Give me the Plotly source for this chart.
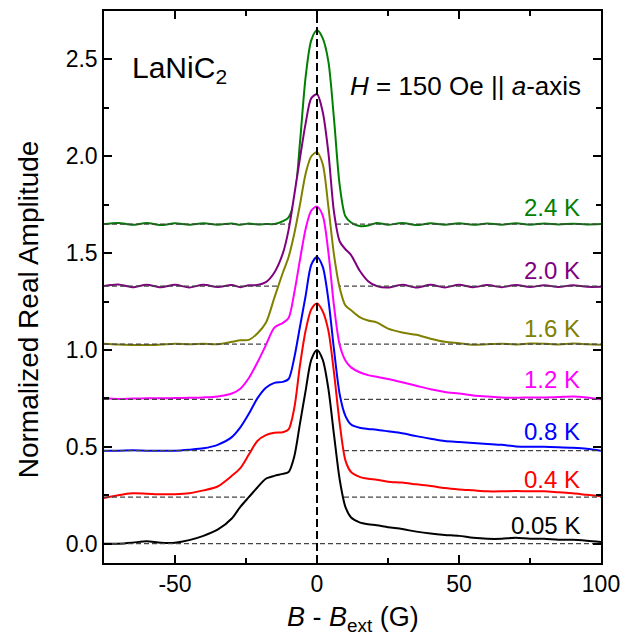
import plotly.graph_objects as go

# ---------------- data ----------------
field = [-75, -70, -65, -60, -55, -50, -45, -40, -35, -30, -27, -24, -21, -18, -15, -12, -10,
         -8, -6, -4, -2, 0, 2, 4, 6, 8, 10, 12, 15, 18, 21, 25, 30, 35, 40, 45, 50, 55, 60,
         65, 70, 75, 80, 85, 90, 95, 100]

amp_005K = [0.0, 0.0, 0.005, 0.012, 0.005, 0.005, 0.018, 0.04, 0.072, 0.13, 0.19, 0.24, 0.29,
            0.335, 0.35, 0.36, 0.37, 0.45, 0.62, 0.79, 0.95, 1.0, 0.95, 0.80, 0.56, 0.33, 0.19,
            0.135, 0.11, 0.10, 0.095, 0.085, 0.075, 0.062, 0.052, 0.045, 0.04, 0.03, 0.025,
            0.025, 0.03, 0.025, 0.025, 0.02, 0.02, 0.015, 0.008]
amp_04K = [-0.005, 0.01, 0.02, 0.018, 0.015, 0.015, 0.02, 0.035, 0.055, 0.11, 0.15, 0.22, 0.29,
           0.32, 0.332, 0.335, 0.35, 0.46, 0.68, 0.86, 0.97, 1.0, 0.96, 0.86, 0.64, 0.38, 0.19,
           0.13, 0.105, 0.095, 0.09, 0.08, 0.075, 0.066, 0.058, 0.047, 0.04, 0.035, 0.03,
           0.03, 0.032, 0.03, 0.03, 0.025, 0.02, 0.012, 0.005]
amp_08K = [0.0, 0.0, 0.002, 0.0, 0.0, 0.0, 0.005, 0.012, 0.03, 0.07, 0.12, 0.19, 0.27,
           0.325, 0.35, 0.355, 0.37, 0.48, 0.64, 0.80, 0.96, 1.0, 0.95, 0.78, 0.52, 0.29, 0.18,
           0.135, 0.118, 0.112, 0.108, 0.10, 0.09, 0.075, 0.062, 0.05, 0.045, 0.04, 0.035,
           0.03, 0.022, 0.02, 0.02, 0.018, 0.015, 0.01, 0.0]
amp_12K = [0.005, 0.002, 0.004, 0.006, 0.005, 0.007, 0.008, 0.01, 0.015, 0.03, 0.055, 0.11, 0.19,
           0.28, 0.37, 0.395, 0.42, 0.55, 0.72, 0.88, 0.975, 0.995, 0.95, 0.76, 0.48, 0.28, 0.20,
           0.165, 0.14, 0.125, 0.117, 0.105, 0.088, 0.07, 0.052, 0.038, 0.03, 0.02, 0.015,
           0.01, 0.008, 0.01, 0.01, 0.012, 0.015, 0.01, 0.0]
amp_16K = [0.002, -0.002, -0.004, -0.005, -0.002, 0.002, 0.0, 0.002, 0.0, 0.012, 0.02, 0.022,
           0.055, 0.11, 0.24, 0.37, 0.45, 0.57, 0.72, 0.88, 0.97, 0.99, 0.93, 0.71, 0.46, 0.29,
           0.20, 0.175, 0.14, 0.122, 0.112, 0.08, 0.06, 0.048, 0.028, 0.012, 0.005, -0.003,
           0.0, 0.002, -0.002, 0.003, 0.002, -0.002, 0.003, 0.0, -0.003]
amp_20K = [0.0, 0.008, -0.006, 0.007, -0.006, 0.006, -0.007, 0.006, -0.005, 0.005, -0.006,
           0.004, 0.005, 0.02, 0.07, 0.17, 0.29, 0.47, 0.66, 0.84, 0.97, 0.99, 0.90, 0.69, 0.38,
           0.23, 0.19, 0.16, 0.08, 0.025, 0.0, -0.008, 0.007, -0.008, 0.006, -0.007, 0.006,
           -0.006, 0.005, -0.006, 0.005, -0.005, 0.004, -0.005, 0.004, -0.004, -0.004]
amp_24K = [0.0, 0.006, -0.004, 0.005, -0.005, 0.004, -0.004, 0.004, -0.003, 0.003, -0.004,
           0.003, -0.002, 0.0, 0.0, 0.015, 0.035, 0.12, 0.42, 0.76, 0.95, 1.0, 0.96, 0.84, 0.54,
           0.20, 0.04, 0.008, -0.01, -0.008, 0.006, -0.004, 0.006, -0.005, 0.004, -0.004, 0.004,
           -0.004, 0.003, -0.003, 0.004, -0.003, 0.003, -0.002, 0.002, -0.002, 0.0]

temperatures = ["0.05 K", "0.4 K", "0.8 K", "1.2 K", "1.6 K", "2.0 K", "2.4 K"]
offsets = [0.0, 0.24, 0.48, 0.745, 1.03, 1.33, 1.65]
label_y = [0.093, 0.331, 0.579, 0.846, 1.113, 1.412, 1.737]
colors = ["#000000", "#FF0000", "#0000FF", "#FF00FF", "#808000", "#800080", "#008000"]
amplitudes = [amp_005K, amp_04K, amp_08K, amp_12K, amp_16K, amp_20K, amp_24K]

x_tick_vals = [-50, 0, 50, 100]
x_tick_text = ["-50", "0", "50", "100"]
y_tick_vals = [0.0, 0.5, 1.0, 1.5, 2.0, 2.5]
y_tick_text = ["0.0", "0.5", "1.0", "1.5", "2.0", "2.5"]
x_range = [-75, 100]
y_range = [-0.1, 2.75]
center_line_x = 0
label_x = 93.4

FONT = "Arial, 'Liberation Sans', Helvetica, sans-serif"

fig = go.Figure()

# draw from the top curve down so lower curves' white fills hide upper dashed baselines
for i in reversed(range(len(temperatures))):
    off = offsets[i]
    ys = [a + off for a in amplitudes[i]]
    fig.add_trace(go.Scatter(x=[x_range[0], x_range[1]], y=[off, off], mode="lines",
                             line=dict(width=0, color="rgba(0,0,0,0)"),
                             hoverinfo="skip", showlegend=False))
    fig.add_trace(go.Scatter(x=field, y=ys, mode="lines", name=temperatures[i],
                             line=dict(color=colors[i], width=2, shape="spline", smoothing=0.8),
                             fill="tonexty", fillcolor="white", showlegend=False))
    fig.add_trace(go.Scatter(x=[x_range[0], x_range[1]], y=[off, off], mode="lines",
                             line=dict(color="#444444", width=1.3, dash="5px,3px"),
                             hoverinfo="skip", showlegend=False))
    fig.add_annotation(x=label_x, y=label_y[i], text=temperatures[i], showarrow=False,
                       xanchor="right", yanchor="middle",
                       font=dict(family=FONT, size=24, color=colors[i]))

fig.add_shape(type="line", x0=center_line_x, x1=center_line_x, y0=0, y1=1,
              xref="x", yref="paper", layer="above",
              line=dict(color="black", width=2, dash="8px,4px"))

fig.add_annotation(x=-65.7, y=2.45, text="LaNiC<sub>2</sub>", showarrow=False,
                   xanchor="left", yanchor="middle",
                   font=dict(family=FONT, size=30, color="black"))
fig.add_annotation(x=93.8, y=2.363, text="<i>H</i> = 150 Oe || <i>a</i>-axis", showarrow=False,
                   xanchor="right", yanchor="middle",
                   font=dict(family=FONT, size=26, color="black"))

# axis titles
fig.add_annotation(x=0, y=1.21, xref="paper", yref="y", xshift=-76,
                   text="Normalized Real Amplitude", textangle=-90, showarrow=False,
                   xanchor="center", yanchor="middle",
                   font=dict(family=FONT, size=28, color="black"))
fig.add_annotation(x=0.5, y=0, xref="paper", yref="paper", yshift=-56,
                   text="<i>B</i> - <i>B</i><sub>ext</sub> (G)", showarrow=False,
                   xanchor="center", yanchor="middle",
                   font=dict(family=FONT, size=27, color="black"))

axis_common = dict(showline=True, linecolor="black", linewidth=1.5, mirror="ticks",
                   ticks="inside", ticklen=8, tickwidth=1.5, tickcolor="black",
                   showgrid=False, zeroline=False,
                   tickfont=dict(family=FONT, size=23, color="black"))

fig.update_xaxes(range=x_range, tickvals=x_tick_vals, ticktext=x_tick_text,
                 minor=dict(dtick=25, tick0=-75, ticks="inside", ticklen=5, tickwidth=1.5,
                            tickcolor="black", showgrid=False),
                 **axis_common)
fig.update_yaxes(range=y_range, tickvals=y_tick_vals, ticktext=y_tick_text,
                 minor=dict(dtick=0.25, tick0=0, ticks="inside", ticklen=5, tickwidth=1.5,
                            tickcolor="black", showgrid=False),
                 **axis_common)

fig.update_layout(width=618, height=625, margin=dict(l=96, r=25, t=1, b=70),
                  paper_bgcolor="white", plot_bgcolor="white", showlegend=False)

fig.write_html("out.html")
